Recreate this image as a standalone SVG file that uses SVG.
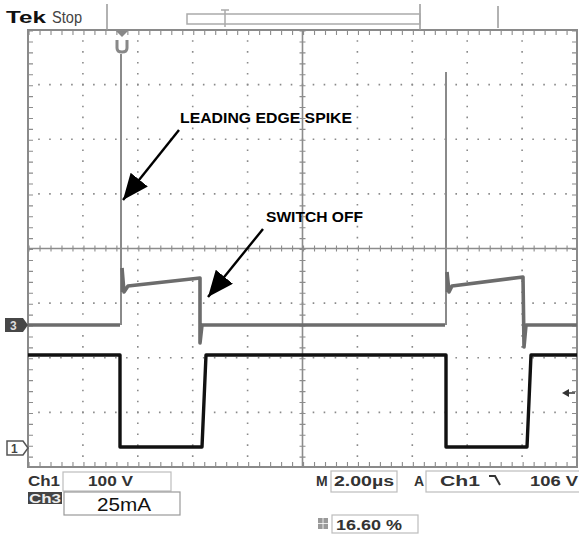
<svg xmlns="http://www.w3.org/2000/svg" width="579" height="535" viewBox="0 0 579 535">
<style>
.grid{stroke:#8a8a8a;stroke-width:1.6;fill:none}
.gh{stroke-dasharray:1.6 9.38}
.gv{stroke-dasharray:1.6 9.325}
.axis{stroke:#8c8c8c;stroke-width:1.6;fill:none}
.tickh{stroke:#8c8c8c;stroke-width:6;stroke-dasharray:1.1 9.88;fill:none}
.tickv{stroke:#8c8c8c;stroke-width:6;stroke-dasharray:1.1 9.825;fill:none}
.edgetick{stroke:#8c8c8c;stroke-width:5;fill:none}
.st{font-family:"Liberation Sans",Arial,sans-serif;font-weight:bold;fill:#333;font-size:14px}
.box{fill:none;stroke:#bdbdbd;stroke-width:1.2}
.ann{font-family:"Liberation Sans",Arial,sans-serif;font-weight:bold;fill:#000;font-size:14.5px}
.conn{stroke:#000;stroke-width:2.4;fill:none}
</style>
<defs>
<marker id="ah" markerUnits="userSpaceOnUse" markerWidth="28" markerHeight="24" refX="26" refY="11" orient="auto">
<path d="M0,0 L26,11 L0,22 Z" fill="#000"/>
</marker>
</defs>
<rect width="579" height="535" fill="#fff"/>
<g id="graticule">
<path class="grid gh" d="M27.2,84.6H577M27.2,139.3H577M27.2,193.9H577M27.2,303.1H577M27.2,357.8H577M27.2,412.4H577"/>
<path class="grid gv" d="M82.9,29.2V467M137.8,29.2V467M192.7,29.2V467M247.6,29.2V467M357.4,29.2V467M412.3,29.2V467M467.2,29.2V467M522.1,29.2V467"/>
<path class="axis" d="M28,248.5H577M302.5,30V467"/>
<path class="tickh" d="M28.5,248.5H577"/>
<path class="tickv" d="M302.5,30.5V467"/>
<path class="edgetick" style="stroke-dasharray:1.1 9.88" d="M28.5,32.5H577M28.5,464.5H577"/>
<path class="edgetick" style="stroke-dasharray:1.1 9.825" d="M30.5,30.5V467M574.5,30.5V467"/>
<rect x="28" y="30" width="549" height="437" fill="none" stroke="#8a8a8a" stroke-width="2"/>
</g>
<g id="status-top">
<text x="6" y="23" style="font-family:'Liberation Sans',Arial,sans-serif;font-weight:bold;font-size:17px;fill:#111" textLength="40" lengthAdjust="spacingAndGlyphs">Tek</text>
<text x="52" y="23" style="font-family:'Liberation Sans',Arial,sans-serif;font-size:16px;fill:#444" textLength="30" lengthAdjust="spacingAndGlyphs">Stop</text>
<path d="M107,4V30M420,4V30M498,6V28" stroke="#999" stroke-width="1.5" fill="none"/>
<rect x="187" y="14" width="233" height="10" fill="none" stroke="#aaa" stroke-width="1.5"/>
<path d="M225,10V27M221,10H229" stroke="#aaa" stroke-width="1.5" fill="none"/>
<polygon points="116,31 128,31 122,37" fill="#888"/>
<path d="M117,40V48Q117,52 122,52Q127,52 127,48V40" stroke="#888" stroke-width="3" fill="none"/>
</g>
<g id="markers">
<path d="M5,318H23L28,325L23,332H5Z" fill="#474747"/>
<text x="10" y="330" style="font-family:'Liberation Sans',Arial,sans-serif;font-weight:bold;font-size:12px;fill:#ddd">3</text>
<path d="M7,441H23L28,448L23,455H7Z" fill="#fff" stroke="#555" stroke-width="1.5"/>
<text x="11" y="453" style="font-family:'Liberation Sans',Arial,sans-serif;font-weight:bold;font-size:12px;fill:#444">1</text>
<polygon points="562,393 569,389 569,397" fill="#333"/>
<path d="M569,393H575" stroke="#333" stroke-width="1.5"/>
</g>
<g id="traces">
<path d="M121,325V54M446,325V72" fill="none" stroke="#8a8a8a" stroke-width="2"/>
<path id="ch3" d="M28,325H120M122,268L124,292L128,286L200,278L200,343L202,325H445M447,272L449,292L452,286L523,277L524,347L526,325H577" fill="none" stroke="#6c6c6c" stroke-width="3.6" stroke-linejoin="round"/>
<path d="M122,268V292M447,272V292" stroke="#6c6c6c" stroke-width="2.5"/>
<path id="ch1" d="M28,355H120V447H202L206,355H446V447H527L531,355H577" fill="none" stroke="#111" stroke-width="3.4" stroke-linejoin="round"/>
</g>
<g id="status-bottom">
<text class="st" x="28" y="486" textLength="32" lengthAdjust="spacingAndGlyphs">Ch1</text>
<rect class="box" x="63" y="472" width="108" height="19"/>
<text class="st" x="88" y="486" textLength="45" lengthAdjust="spacingAndGlyphs">100 V</text>
<rect x="28" y="492" width="34" height="12" fill="#444"/>
<text x="29" y="503" style="font-family:'Liberation Sans',Arial,sans-serif;font-weight:bold;font-size:12px;fill:#eee" textLength="32" lengthAdjust="spacingAndGlyphs">Ch3</text>
<rect x="64" y="492" width="116" height="23" fill="#fff" stroke="#999" stroke-width="1.2"/>
<text x="97" y="511" style="font-family:'Liberation Sans',Arial,sans-serif;font-size:19px;fill:#111" textLength="54" lengthAdjust="spacingAndGlyphs">25mA</text>
<text class="st" x="316" y="486">M</text>
<rect class="box" x="331" y="471" width="66" height="21"/>
<text class="st" x="334" y="486" textLength="60" lengthAdjust="spacingAndGlyphs">2.00µs</text>
<text class="st" x="414" y="486">A</text>
<rect class="box" x="426" y="471" width="155" height="21"/>
<text class="st" x="440" y="486" textLength="40" lengthAdjust="spacingAndGlyphs">Ch1</text>
<path d="M489,476H495L500,485" stroke="#333" stroke-width="2" fill="none"/>
<text class="st" x="530" y="486" textLength="48" lengthAdjust="spacingAndGlyphs">106 V</text>
<rect x="318" y="518" width="10" height="11" fill="#999"/>
<path d="M318,523.5H328M323,518V529" stroke="#fff" stroke-width="0.8"/>
<rect class="box" x="332" y="515" width="86" height="18"/>
<text class="st" x="336" y="530" textLength="66" lengthAdjust="spacingAndGlyphs">16.60 %</text>
</g>
<g id="label-spike">
<text class="ann" x="180" y="123" textLength="172" lengthAdjust="spacingAndGlyphs">LEADING EDGE SPIKE</text>
</g>
<g id="label-switch-off">
<text class="ann" x="266" y="222" textLength="97" lengthAdjust="spacingAndGlyphs">SWITCH OFF</text>
</g>
<g id="connectors">
<path class="conn" d="M179,130L123,200" marker-end="url(#ah)"/>
<path class="conn" d="M263,229L208,297" marker-end="url(#ah)"/>
</g>
</svg>
